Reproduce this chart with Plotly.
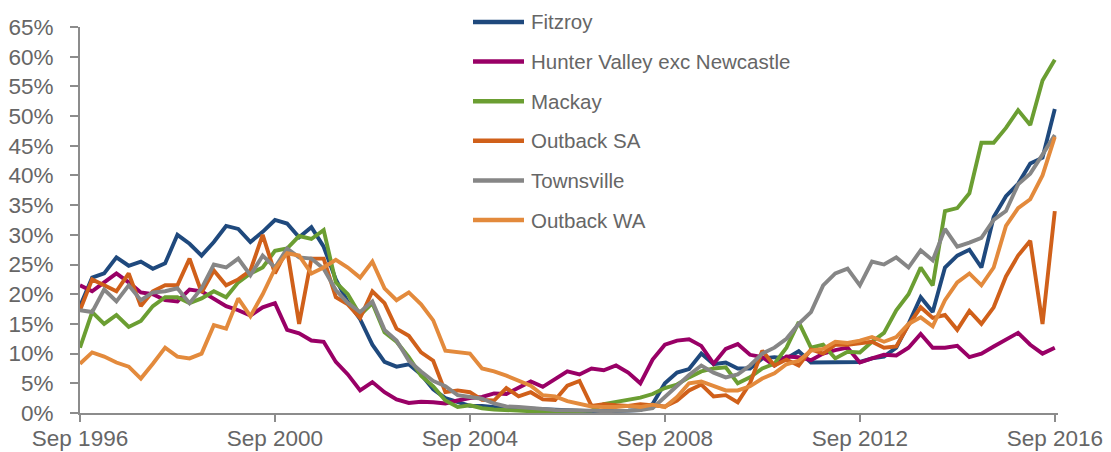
import pandas as pd
import plotly.graph_objects as go

# Quarterly observations, Sep 1996 .. Sep 2016 (81 points), values in %
start_month = "1996-09-01"
n_points = 81

fitzroy = [18, 22.8, 23.5, 26.2, 24.8, 25.5, 24.3, 25.2, 30, 28.5,
           26.5, 28.8, 31.5, 31, 28.8, 30.5, 32.5, 31.9, 29.6, 31.3,
           28, 22.5, 18.7, 15.8, 11.5, 8.6, 7.8, 8.2, 6.5, 4,
           2.5, 1.8, 1.2, 1.2, 1.0, 0.8, 0.8, 0.7, 0.6, 0.5,
           0.4, 0.4, 0.3, 0.3, 0.3, 0.4, 0.5, 1.5, 5, 6.8,
           7.4, 10, 8.2, 8.5, 7.5, 7.5, 9.2, 9.4, 9.2, 10.4,
           8.5, 8.5, 8.5, 8.5, 8.6, 9.2, 9.5, 11, 15, 19.5,
           17, 24.5, 26.5, 27.5, 24.5, 33, 36.5, 38.6, 42, 43,
           51.2]

hunter = [21.5, 20.5, 22, 23.5, 22, 20.3, 20, 19, 18.8, 20.8,
          20.5, 19.3, 18, 17.3, 16.4, 17.8, 18.5, 14, 13.4, 12.2,
          12, 8.6, 6.5, 3.8, 5.2, 3.5, 2.3, 1.7, 1.9, 1.8,
          1.6, 2.1, 2.5, 2.7, 3.3, 3.2, 4.3, 5.3, 4.4, 5.8,
          7, 6.5, 7.5, 7.2, 8, 6.8, 5, 9, 11.5, 12.2,
          12.4, 11.3, 8.3, 10.8, 11.6, 9.8, 9.4, 8, 9.5, 9.4,
          8.9, 10, 10.6, 11, 8.5, 9.2, 9.8, 9.7, 11, 13.3,
          11, 11, 11.3, 9.4, 10, 11.2, 12.3, 13.5, 11.5, 10,
          11]

mackay = [11, 17, 15, 16.5, 14.5, 15.5, 18, 19.5, 19.5, 18.5,
          19.3, 20.5, 19.5, 22, 23.5, 24.5, 27.3, 27.7, 29.8, 29.3,
          30.8, 22, 20, 16.5, 18.5, 13.6, 12, 9.4, 6.3, 4.5,
          2.1, 1.0, 1.3, 0.8, 0.6, 0.5, 0.4, 0.2, 0.2, 0.2,
          0.3, 0.3, 0.4, 1.5, 1.9, 2.2, 2.6, 3.2, 4.2, 4.8,
          6, 7, 7.5, 7.7, 5, 6, 7.5, 8.3, 11, 15.3,
          11, 11.5, 9.2, 10.3, 10.2, 12, 13.5, 17.3, 20, 24.5,
          21.5, 34, 34.5, 37, 45.5, 45.5, 48, 51, 48.5, 56,
          59.5]

outback_sa = [17.3, 22.5, 21.5, 20.5, 23.5, 18, 20.5, 21.5, 21.5, 26,
              20.3, 24, 21.5, 22.5, 24, 30, 23.5, 27.5, 15, 26,
              26, 19.5, 18.3, 16, 20.5, 18.5, 14.2, 13, 10.2, 8.8,
              3.5, 3.8, 3.5, 2.2, 2.1, 4.2, 2.8, 3.5, 2.3, 2.2,
              4.6, 5.4, 1.2, 1.5, 1.3, 1.2, 1.5, 1.3, 1.1, 2.1,
              3.8, 4.8, 2.8, 3, 1.8, 5, 10.5, 8, 9, 8,
              10.7, 10, 11.5, 11.5, 11.8, 12, 11, 11.2, 14.8, 17.8,
              16, 16.5, 14, 17.2, 15, 17.8, 23, 26.5, 29, 15,
              34]

townsville = [17.3, 17, 20.8, 18.8, 21.5, 19, 20.3, 20.5, 21, 18.5,
              21, 25, 24.5, 26, 23.2, 26.5, 24.5, 27.7, 26.2, 26,
              24.3, 20.7, 18.5, 17, 18.8, 14, 12.2, 8.8, 7, 5.4,
              4.5, 3, 2.7, 2.4, 1.6, 1.1, 1, 0.9, 0.7, 0.5,
              0.5, 0.4, 0.4, 0.3, 0.3, 0.4, 0.5, 0.8, 2.7, 4.6,
              6.4, 8, 6.8, 6, 6.5, 8, 10, 11, 12.5, 15,
              17, 21.5, 23.5, 24.3, 21.5, 25.5, 25, 26.2, 24.5, 27.4,
              25.7, 31, 28, 28.7, 29.5, 32.5, 34, 38.5, 40.3, 43.5,
              46.8]

outback_wa = [8.3, 10.2, 9.5, 8.5, 7.8, 5.8, 8.3, 11, 9.5, 9.2,
              10, 14.8, 14.2, 19.3, 16.3, 20, 24.3, 26.9, 26.5, 23.5,
              24.5, 25.8, 24.5, 22.8, 25.5, 21, 19, 20.3, 18.3, 15.6,
              10.5, 10.3, 10, 7.5, 7, 6.3, 5.5, 4.6, 3, 2.8,
              2, 1.6, 1.1, 1, 1, 1.2, 1, 1.4, 1, 2.7,
              5, 5.3, 4.6, 3.8, 3.8, 4.5, 5.8, 6.7, 8.2, 8.8,
              10.5, 10.8, 12, 11.8, 12.2, 12.8, 12, 12.8, 15, 16.1,
              14.6, 19, 22, 23.5, 21.5, 24.5, 31.5, 34.5, 36, 40,
              46.5]

series_names = ["Fitzroy", "Hunter Valley exc Newcastle", "Mackay",
                "Outback SA", "Townsville", "Outback WA"]
series_values = [fitzroy, hunter, mackay, outback_sa, townsville, outback_wa]
series_colors = ["#1F497D", "#990066", "#6B9E32", "#D0601A", "#868686", "#E38A3C"]

tick_years = [1996, 2000, 2004, 2008, 2012, 2016]
tick_labels = [f"Sep {y}" for y in tick_years]
tick_dates = [f"{y}-09-01" for y in tick_years]

dates = pd.date_range(start_month, periods=n_points, freq="3MS")

W, H = 1111, 452
ML, MR, MT, MB = 80, 53, 27, 39
PW, PH = W - ML - MR, H - MT - MB


def px_to_paper_x(px):
    return (px - ML) / PW


def px_to_paper_y(py):
    return (H - MB - py) / PH


fig = go.Figure()
for name, vals, col in zip(series_names, series_values, series_colors):
    fig.add_trace(go.Scatter(
        x=dates, y=vals, name=name, mode="lines",
        line=dict(color=col, width=3.9),
        showlegend=False,
    ))

axis_grey = "#8C8C8C"
text_grey = "#666666"

# Legend drawn as line swatches + text (positioned like the reference)
leg_x0, leg_x1, leg_text_x = 473, 524, 529
leg_y0, leg_dy = 22, 39.6
shapes, annotations = [], []
for i, (name, col) in enumerate(zip(series_names, series_colors)):
    yy = px_to_paper_y(leg_y0 + i * leg_dy)
    shapes.append(dict(type="line", xref="paper", yref="paper",
                       x0=px_to_paper_x(leg_x0), x1=px_to_paper_x(leg_x1),
                       y0=yy, y1=yy, line=dict(color=col, width=4.5)))
    annotations.append(dict(xref="paper", yref="paper",
                            x=px_to_paper_x(leg_text_x), y=yy,
                            xanchor="left", yanchor="middle", showarrow=False,
                            text=name, font=dict(size=20.5, color=text_grey)))

fig.update_layout(
    width=W, height=H,
    margin=dict(l=ML, r=MR, t=MT, b=MB, autoexpand=False),
    paper_bgcolor="white", plot_bgcolor="white",
    font=dict(family="Liberation Sans, Arial, sans-serif", color=text_grey),
    showlegend=False,
    shapes=shapes, annotations=annotations,
)

fig.update_xaxes(
    type="date",
    range=["1996-09-01", "2016-09-25"],
    tickvals=tick_dates, ticktext=tick_labels,
    showline=True, linecolor=axis_grey, linewidth=2,
    ticks="outside", ticklen=7, tickcolor=axis_grey, tickwidth=2,
    showgrid=False, zeroline=False,
    tickfont=dict(size=22.5, color=text_grey),
    ticklabelstandoff=-3,
)
fig.update_yaxes(
    range=[0, 65], dtick=5, tick0=0, ticksuffix="%",
    showline=True, linecolor=axis_grey, linewidth=2,
    ticks="outside", ticklen=8, tickcolor=axis_grey, tickwidth=2,
    showgrid=False, zeroline=False,
    tickfont=dict(size=22.5, color=text_grey),
    ticklabelstandoff=12,
)

fig.write_html(
    "out.html",
    config={"displayModeBar": False},
    post_script="document.body.style.margin='0';document.body.style.overflow='hidden';",
)
